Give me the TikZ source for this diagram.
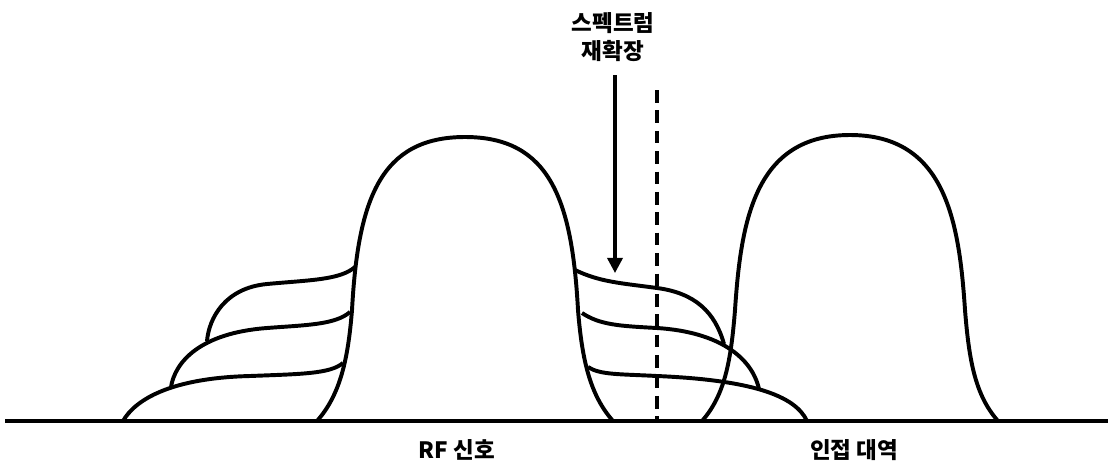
\documentclass[tikz,border=0pt]{standalone}
\usepackage{fontspec}
\setmainfont{Noto Sans CJK KR}
\usepackage{tikz}
\usetikzlibrary{arrows.meta,positioning}

\begin{document}
\begin{tikzpicture}[x=0.025cm, y=-0.025cm,
  curve/.style={line width=2.8pt, line join=round},
  axis/.style={line width=3.5pt},
  guide/.style={line width=2.4pt, dash pattern=on 9pt off 5.5pt},
  arr/.style={-{Triangle[length=3.8mm, width=3.8mm]}, line width=2.4pt},
  lab/.style={font=\fontsize{16}{19.5}\selectfont\bfseries, align=center}]
  \useasboundingbox (0,0) rectangle (1108,463);
  % axis and labels
  \coordinate (ax0) at (5,421);
  \coordinate (ax1) at (1108,421);
  \draw[axis] (ax0) -- (ax1);
  \node[lab] (rf)  at (457,450) {RF 신호};
  \node[lab] (adj) at (854,450) {인접 대역};
  % RF signal main lobe
  \draw[curve] (317,421) .. controls (340,395) and (348,360) .. (352,310)
    .. controls (358,200) and (380,137) .. (465,137)
    .. controls (550,137) and (572,200) .. (578,310)
    .. controls (582,360) and (590,395) .. (613,421);
  % regrowth, left side
  \draw[curve] (355,267) .. controls (340,280) and (310,280) .. (267,284)
    .. controls (225,288) and (209,318) .. (207,341);
  \draw[curve] (350,312) .. controls (335,325) and (305,325) .. (267,328)
    .. controls (200,333) and (175,362) .. (171,387);
  \draw[curve] (343,363) .. controls (330,374) and (300,374) .. (250,376)
    .. controls (170,378) and (135,400) .. (123,421);
  % regrowth, right side
  \draw[curve] (575,270) .. controls (600,282) and (620,283) .. (657,288)
    .. controls (695,293) and (715,312) .. (724,344);
  \draw[curve] (582,313) .. controls (600,325) and (620,326) .. (657,328)
    .. controls (720,332) and (752,358) .. (759,389);
  \draw[curve] (588,367) .. controls (600,375) and (620,374) .. (657,376)
    .. controls (750,380) and (795,395) .. (807,421);
  % adjacent band
  \draw[curve] (702,421) .. controls (725,395) and (731,360) .. (735,310)
    .. controls (741,220) and (755,135) .. (850,135)
    .. controls (945,135) and (959,220) .. (965,310)
    .. controls (969,360) and (975,395) .. (998,421);
  % band edge
  \coordinate (edgetop) at (657,90);
  \coordinate (edgebot) at (657,421);
  \draw[guide] (edgetop) -- (edgebot);
  % regrowth marker
  \node[lab] (regrow) at (613,37) {스펙트럼\\재확장};
  \coordinate (arrtop) at (615,75);
  \coordinate (arrtip) at (615,273);
  \draw[arr] (arrtop) -- (arrtip);
\end{tikzpicture}
\end{document}
